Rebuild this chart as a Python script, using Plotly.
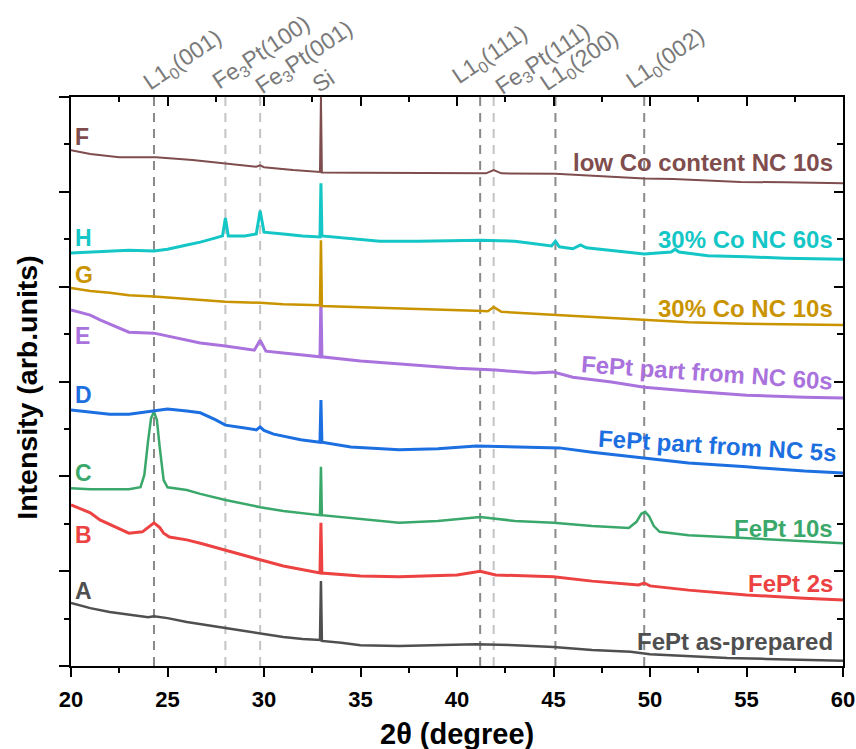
import plotly.graph_objects as go

# ---------------- data ----------------
X_MIN, X_MAX = 20, 60
Y_MIN, Y_MAX = 0, 12

A_x = [20, 21, 22, 23, 24, 24.3, 25, 26, 27, 28, 29, 30, 31, 32, 32.9, 32.95, 33.0, 34, 35, 37, 39, 41, 43, 45, 47, 49, 50, 52, 54, 56, 58, 60]
A_y = [1.33, 1.22, 1.14, 1.08, 1.03, 1.05, 1.01, 0.93, 0.86, 0.80, 0.74, 0.67, 0.61, 0.57, 0.55, 1.79, 0.53, 0.49, 0.44, 0.42, 0.44, 0.46, 0.44, 0.40, 0.34, 0.30, 0.25, 0.21, 0.17, 0.15, 0.13, 0.11]

B_x = [20, 21, 21.5, 22, 23, 23.7, 24.0, 24.3, 24.6, 24.8, 25.1, 26, 26.7, 28, 29.8, 31, 32.9, 32.95, 33.0, 35, 37, 40, 41.2, 42, 45, 47, 49.4, 49.7, 50, 52, 55, 58, 60]
B_y = [3.40, 3.23, 3.08, 2.99, 2.80, 2.83, 2.93, 3.02, 2.92, 2.80, 2.72, 2.66, 2.59, 2.45, 2.24, 2.11, 1.96, 3.02, 1.96, 1.90, 1.88, 1.92, 2.00, 1.92, 1.88, 1.79, 1.71, 1.75, 1.69, 1.60, 1.50, 1.43, 1.39]

C_x = [20, 21, 22, 23, 23.6, 23.8, 24.0, 24.15, 24.3, 24.45, 24.6, 24.8, 25.0, 26, 26.7, 28, 29.8, 31, 32.9, 32.95, 33.0, 35, 37, 39, 41.2, 43, 45, 47, 48.9, 49.3, 49.55, 49.75, 49.95, 50.2, 50.5, 52, 55, 58, 60]
C_y = [3.75, 3.73, 3.73, 3.73, 3.77, 4.03, 4.77, 5.23, 5.36, 5.19, 4.60, 3.92, 3.77, 3.71, 3.63, 3.50, 3.35, 3.27, 3.18, 4.20, 3.18, 3.10, 3.02, 3.06, 3.14, 3.06, 3.02, 2.95, 2.91, 3.04, 3.21, 3.25, 3.16, 2.95, 2.83, 2.76, 2.70, 2.64, 2.59]

D_x = [20, 21, 22, 23, 24, 25, 26, 26.7, 27.5, 28, 29, 29.6, 29.8, 30.0, 30.5, 31.9, 32.9, 32.95, 33.0, 34.5, 37, 39, 41, 43, 45.3, 47, 49.7, 52, 55, 58, 60]
D_y = [5.40, 5.36, 5.31, 5.31, 5.36, 5.42, 5.38, 5.34, 5.19, 5.08, 5.02, 4.98, 5.04, 4.97, 4.89, 4.77, 4.72, 5.61, 4.72, 4.62, 4.56, 4.58, 4.64, 4.62, 4.60, 4.51, 4.39, 4.28, 4.20, 4.11, 4.07]

E_x = [20, 21, 21.5, 22, 23, 24.3, 25, 26, 26.7, 28, 29.5, 29.8, 30.1, 31, 32, 32.9, 32.95, 33.0, 35, 37, 40, 42, 44, 45, 46, 48, 49.7, 52, 55, 58, 60]
E_y = [7.51, 7.40, 7.30, 7.21, 7.04, 7.02, 6.96, 6.87, 6.81, 6.75, 6.66, 6.87, 6.64, 6.60, 6.56, 6.52, 7.78, 6.52, 6.43, 6.37, 6.28, 6.24, 6.18, 6.20, 6.09, 5.99, 5.88, 5.80, 5.71, 5.67, 5.65]

G_x = [20, 21, 22, 23, 24.3, 26, 27, 28, 29.8, 31, 32.9, 32.95, 33.0, 35, 38, 41, 41.6, 41.9, 42.3, 44, 45.3, 47, 49.7, 52, 55, 58, 60]
G_y = [7.97, 7.91, 7.87, 7.82, 7.79, 7.74, 7.71, 7.68, 7.66, 7.63, 7.61, 8.98, 7.59, 7.56, 7.53, 7.49, 7.48, 7.57, 7.47, 7.43, 7.40, 7.36, 7.30, 7.25, 7.22, 7.20, 7.19]

H_x = [20, 21, 22, 23, 24.3, 25, 26, 26.7, 27.5, 27.85, 28.0, 28.15, 29, 29.6, 29.8, 30.0, 31, 32, 32.9, 32.95, 33.0, 35, 36, 38, 40, 41.2, 43, 44, 44.9, 45.1, 45.3, 46, 46.4, 46.7, 48, 49.7, 51.1, 51.3, 51.5, 53, 55, 57, 60]
H_y = [8.71, 8.73, 8.75, 8.77, 8.75, 8.79, 8.88, 8.94, 9.03, 9.07, 9.45, 9.07, 9.07, 9.11, 9.60, 9.15, 9.11, 9.07, 9.05, 10.18, 9.07, 9.00, 8.96, 8.96, 8.98, 8.98, 8.96, 8.90, 8.86, 8.96, 8.84, 8.80, 8.88, 8.82, 8.77, 8.69, 8.73, 8.79, 8.73, 8.65, 8.63, 8.60, 8.58]

F_x = [20, 21, 22.5, 24.4, 26.3, 28.1, 29.6, 29.8, 30.0, 31.5, 32.9, 32.95, 33.0, 35, 39, 41.5, 41.9, 42.3, 45.1, 47.5, 49.7, 51.2, 54.7, 57, 60]
F_y = [10.88, 10.80, 10.73, 10.73, 10.67, 10.59, 10.53, 10.56, 10.52, 10.46, 10.42, 12.0, 10.41, 10.40, 10.39, 10.39, 10.46, 10.39, 10.38, 10.33, 10.28, 10.27, 10.21, 10.20, 10.18]

SERIES_LETTERS = ["A", "B", "C", "D", "E", "G", "H", "F"]
SERIES_NAMES = ["FePt as-prepared", "FePt 2s", "FePt 10s", "FePt part from NC 5s",
                "FePt part from NC 60s", "30% Co NC 10s", "30% Co NC 60s", "low Co content NC 10s"]
SERIES_X = [A_x, B_x, C_x, D_x, E_x, G_x, H_x, F_x]
SERIES_Y = [A_y, B_y, C_y, D_y, E_y, G_y, H_y, F_y]
# label vertical positions (intensity units)
LETTER_Y = [1.59, 2.76, 4.06, 5.71, 6.97, 8.24, 9.03, 11.16]
NAME_Y = [0.51, 1.73, 2.91, 4.64, 6.20, 7.55, 9.00, 10.61]

REF_POS = [24.3, 28.0, 29.8, 41.2, 41.9, 45.1, 49.7]
REF_LABELS = ["L1<sub>0</sub>(001)", "Fe<sub>3</sub>Pt(100)", "Fe<sub>3</sub>Pt(001)",
              "L1<sub>0</sub>(111)", "Fe<sub>3</sub>Pt(111)", "L1<sub>0</sub>(200)", "L1<sub>0</sub>(002)"]
SI_POS = 32.95
SI_LABEL = "Si"

# ---------------- styles ----------------
COLORS = ["#4f4f4f", "#ec4242", "#3aa86a", "#1c6fe0", "#aa72dc", "#c99400", "#14c6c6", "#7f4d4d"]
WIDTHS = [2.5, 3, 2.5, 3, 3, 2.5, 3, 2]
REF_COLORS = ["#8a8a8a", "#c4c4c4", "#c4c4c4", "#8a8a8a", "#c4c4c4", "#8a8a8a", "#8a8a8a"]
REF_XSHIFT = [-18, -21, -13, -16, -36, -6, -23, -26]
REF_YSHIFT = [-3, -2, -7, -3, 3, -7, -4, -2]
NAME_X = [59.6, 59.6, 59.6, 53.5, 52.95, 59.6, 59.6, 59.6]
NAME_ANCHOR = ["right", "right", "right", "center", "center", "right", "right", "right"]
NAME_ANGLE = [0, 0, 0, 3.5, 4, 0, 0, 0]

FONT = "Liberation Sans, Arial, Helvetica, sans-serif"

fig = go.Figure()

for sx, sy, col, w in zip(SERIES_X, SERIES_Y, COLORS, WIDTHS):
    fig.add_trace(go.Scatter(x=sx, y=sy, mode="lines", line=dict(color=col, width=w),
                             showlegend=False, hoverinfo="skip"))

# invisible trace for mirrored axes
fig.add_trace(go.Scatter(x=[X_MIN, X_MAX], y=[Y_MIN, Y_MAX], xaxis="x2", yaxis="y2",
                         mode="markers", marker=dict(opacity=0), showlegend=False, hoverinfo="skip"))

shapes = []
for pos, col in zip(REF_POS, REF_COLORS):
    shapes.append(dict(type="line", xref="x", yref="paper", x0=pos, x1=pos, y0=0, y1=1,
                       line=dict(color=col, width=2, dash="9px,7px"), layer="below"))

ann = []
top_pos = REF_POS[:3] + [SI_POS] + REF_POS[3:]
top_lab = REF_LABELS[:3] + [SI_LABEL] + REF_LABELS[3:]
for pos, lab, xs, ys in zip(top_pos, top_lab, REF_XSHIFT, REF_YSHIFT):
    ann.append(dict(x=pos, y=1, xref="x", yref="paper", text=lab, showarrow=False,
                    textangle=-34, xanchor="left", yanchor="bottom", xshift=xs, yshift=ys,
                    font=dict(family=FONT, size=23, color="#7a7a7a")))

for let, ly, col in zip(SERIES_LETTERS, LETTER_Y, COLORS):
    ann.append(dict(x=X_MIN, y=ly, xref="x", yref="y", text="<b>%s</b>" % let, showarrow=False,
                    xanchor="left", yanchor="middle", xshift=2,
                    font=dict(family=FONT, size=23, color=col)))

for name, ny, nx, anc, ang, col in zip(SERIES_NAMES, NAME_Y, NAME_X, NAME_ANCHOR, NAME_ANGLE, COLORS):
    ann.append(dict(x=nx, y=ny, xref="x", yref="y", text="<b>%s</b>" % name, showarrow=False,
                    xanchor=anc, yanchor="middle", textangle=ang,
                    font=dict(family=FONT, size=24, color=col)))

# axis titles
ann.append(dict(x=0, y=0.489, xref="paper", yref="paper", text="<b>Intensity (arb.units)</b>",
                showarrow=False, textangle=-90, xanchor="center", yanchor="middle", xshift=-44,
                font=dict(family=FONT, size=28.5, color="black")))
ann.append(dict(x=0.5, y=0, xref="paper", yref="paper", text="<b>2θ (degree)</b>",
                showarrow=False, xanchor="center", yanchor="middle", yshift=-68,
                font=dict(family=FONT, size=29, color="black")))

axis_common = dict(showline=True, linewidth=2, linecolor="black", showgrid=False, zeroline=False,
                   tickwidth=2, tickcolor="black", automargin=False)

fig.update_layout(
    width=856, height=749, autosize=False,
    margin=dict(l=71, r=13, t=97, b=83, pad=0, autoexpand=False),
    plot_bgcolor="white", paper_bgcolor="white",
    shapes=shapes, annotations=ann,
    xaxis=dict(range=[X_MIN, X_MAX], tick0=20, dtick=5, ticks="outside", ticklen=9,
               minor=dict(dtick=2.5, ticklen=5, tickwidth=2, tickcolor="black", ticks="outside"),
               tickfont=dict(family=FONT, size=22, color="black", weight="bold"),
               ticklabelstandoff=4,
               **axis_common),
    yaxis=dict(range=[Y_MIN, Y_MAX], tick0=0, dtick=2, ticks="outside", ticklen=10,
               minor=dict(dtick=1, ticklen=5, tickwidth=2, tickcolor="black", ticks="outside"),
               showticklabels=False, **axis_common),
    xaxis2=dict(range=[X_MIN, X_MAX], overlaying="x", side="top", anchor="y2", tick0=20, dtick=5,
                ticks="inside", ticklen=9,
                minor=dict(dtick=2.5, ticklen=5, tickwidth=2, tickcolor="black", ticks="inside"),
                showticklabels=False, **axis_common),
    yaxis2=dict(range=[Y_MIN, Y_MAX], overlaying="y", side="right", anchor="x2", tick0=0, dtick=2,
                ticks="inside", ticklen=9,
                minor=dict(dtick=1, ticklen=6, tickwidth=2, tickcolor="black", ticks="inside"),
                showticklabels=False, **axis_common),
)

fig.write_html("out.html", config={"displayModeBar": False, "responsive": False},
               post_script="document.body.style.margin='0';"
                           "document.documentElement.style.overflow='hidden';"
                           "document.body.style.overflow='hidden';")
